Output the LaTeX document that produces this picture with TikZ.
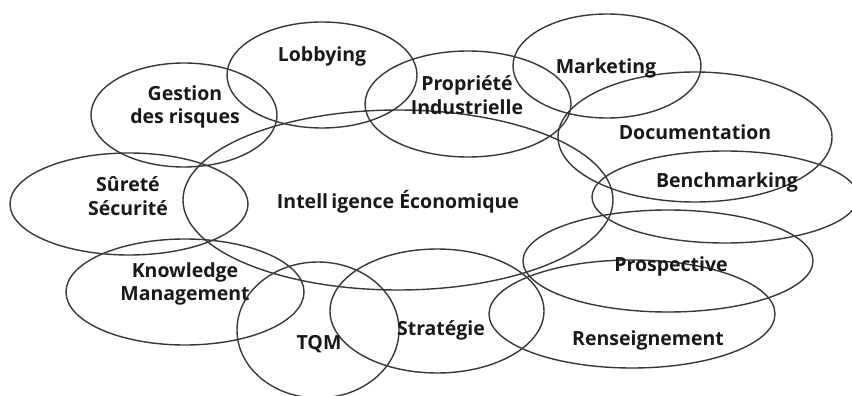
\documentclass[tikz,border=0pt]{standalone}
\usepackage{fontspec}
\setmainfont{Open Sans}
\usetikzlibrary{shapes.geometric}
\begin{document}
\begin{tikzpicture}[x=1pt,y=-1pt,
  blob/.style={ellipse, draw=black!78, line width=1.4pt, inner sep=0pt},
  lab/.style={font=\bfseries\fontsize{19.5}{23.5}\selectfont, text=black!90, align=center, inner sep=0pt}]
\useasboundingbox (0,0) rectangle (852,396);
\clip (0,0) rectangle (852,396);
\fill[white] (0,0) rectangle (852,396);
% ellipses
\node[blob, minimum width=430pt, minimum height=180pt] (ie)  at (398,200) {};
\node[blob, minimum width=190pt, minimum height=106pt] (lob) at (322,75) {};
\node[blob, minimum width=186pt, minimum height=104pt] (ges) at (184,115) {};
\node[blob, minimum width=238pt, minimum height=102pt] (sur) at (129,204) {};
\node[blob, minimum width=206pt, minimum height=106pt] (pro) at (468,104) {};
\node[blob, minimum width=188pt, minimum height=104pt] (mkt) at (607,66) {};
\node[blob, minimum width=274pt, minimum height=130pt] (doc) at (695,137) {};
\node[blob, minimum width=266pt, minimum height=92pt]  (ben) at (725,197) {};
\node[blob, minimum width=290pt, minimum height=102pt] (psp) at (668,261) {};
\node[blob, minimum width=286pt, minimum height=108pt] (ren) at (632,314) {};
\node[blob, minimum width=214pt, minimum height=124pt] (str) at (437,311) {};
\node[blob, minimum width=162pt, minimum height=136pt] (tqm) at (318,330) {};
\node[blob, minimum width=238pt, minimum height=106pt] (km)  at (185,292) {};
% labels
\node[lab] (tlob) at (322,56) {Lobbying};
\node[lab] (tges) at (185,107) {Gestion\\des risques};
\node[lab] (tsur) at (128,196) {Sûreté\\Sécurité};
\node[lab] (tie)  at (398,202) {Intell\,igence Économique};
\node[lab] (tpro) at (467,95) {Propriété\\Industrielle};
\node[lab] (tmkt) at (606,68) {Marketing};
\node[lab] (tdoc) at (695,132) {Documentation};
\node[lab] (tben) at (727,182) {Benchmarking};
\node[lab] (tpsp) at (671,266) {Prospective};
\node[lab] (tren) at (648,340) {Renseignement};
\node[lab] (tstr) at (441,330) {Stratégie};
\node[lab] (ttqm) at (319,344) {TQM};
\node[lab] (tkm)  at (185,284) {Knowledge\\Management};
\end{tikzpicture}
\end{document}
